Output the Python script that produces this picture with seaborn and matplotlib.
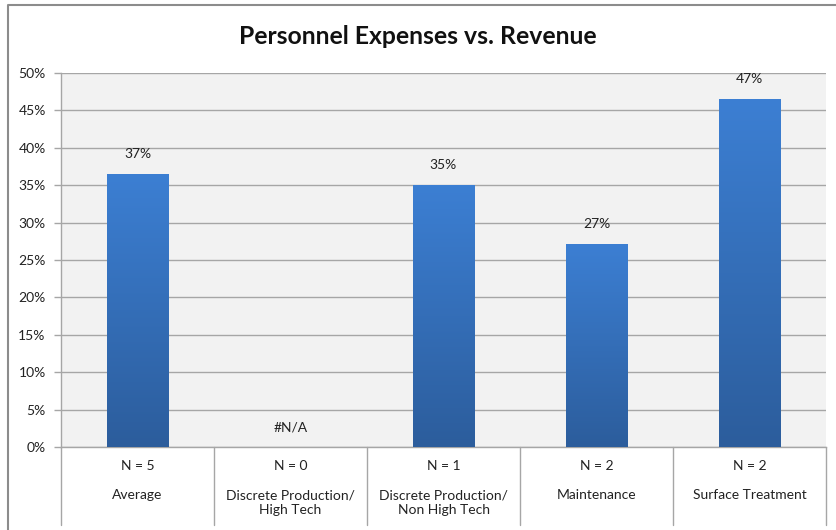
import numpy as np
import pandas as pd
import matplotlib
matplotlib.use("Agg")
import matplotlib.pyplot as plt
import matplotlib.transforms as mtransforms
from matplotlib.colors import LinearSegmentedColormap
from matplotlib.lines import Line2D
import seaborn as sns

# Data
categories = ["Average", "Discrete Production/\nHigh Tech", "Discrete Production/\nNon High Tech",
              "Maintenance", "Surface Treatment"]
sample_sizes = [5, 0, 1, 2, 2]
values = [36.5, np.nan, 35.0, 27.1, 46.5]
value_labels = ["37%", "#N/A", "35%", "27%", "47%"]
y_ticks = [0, 5, 10, 15, 20, 25, 30, 35, 40, 45, 50]

sns.set_theme(style="white")
plt.rcParams["font.family"] = ["Lato", "DejaVu Sans"]

df = pd.DataFrame({"category": categories, "value": values})

fig = plt.figure(figsize=(8.36, 5.30), dpi=100)
ax = fig.add_axes([61 / 836, 1 - 447 / 530, 765 / 836, 374 / 530])
ax.set_facecolor("#f2f2f2")

sns.barplot(data=df, x="category", y="value", ax=ax, color="#3a78c9", width=0.4,
            saturation=1, edgecolor="none", zorder=3)

# gradient fill on each bar
cmap = LinearSegmentedColormap.from_list("bar", ["#2c5d9c", "#3c7fd3"])
grad = np.linspace(0, 1, 256).reshape(-1, 1)
for p in ax.patches:
    h = p.get_height()
    if not np.isfinite(h) or h <= 0:
        continue
    x0 = p.get_x()
    w = p.get_width()
    im = ax.imshow(grad, cmap=cmap, aspect="auto", origin="lower",
                   extent=[x0, x0 + w, 0, h], zorder=4)
    im.set_clip_path(p)

ax.set_xlim(-0.5, len(categories) - 0.5)
ax.set_ylim(0, 50)
ax.set_yticks(y_ticks)
ax.set_yticklabels([f"{t}%" for t in y_ticks], fontsize=10, color="#222222")
ax.yaxis.grid(True, color="#a6a6a6", linewidth=1.0, zorder=0)
ax.set_axisbelow(True)
ax.tick_params(axis="y", length=5, width=1, color="#a6a6a6", pad=6, left=True)
ax.set_xticks([])
ax.set_xlabel("")
ax.set_ylabel("")
for side in ["top", "right"]:
    ax.spines[side].set_visible(False)
for side in ["left", "bottom"]:
    ax.spines[side].set_color("#a6a6a6")
    ax.spines[side].set_linewidth(1.0)

# value labels
for i, (v, lab) in enumerate(zip(values, value_labels)):
    y = 0 if not np.isfinite(v) else v
    ax.annotate(lab, (i, y), xytext=(0, 10), textcoords="offset points",
                ha="center", va="bottom", fontsize=10, color="#222222")

# category table under the axis
trans = mtransforms.blended_transform_factory(ax.transData, ax.transAxes)
for b in np.arange(-0.5, len(categories), 1.0):
    ax.plot([b, b], [0, -78 / 374], transform=trans, color="#a6a6a6", lw=1, clip_on=False)
for i, (n, cat) in enumerate(zip(sample_sizes, categories)):
    ax.text(i, -19 / 374, f"N = {n}", transform=trans, ha="center", va="center",
            fontsize=10, color="#222222")
    ax.text(i, -42 / 374, cat, transform=trans, ha="center", va="top",
            fontsize=10, color="#222222", linespacing=1.25)

fig.text(0.5, 1 - 37 / 530, "Personnel Expenses vs. Revenue", ha="center", va="center",
         fontsize=17.8, fontweight="bold", color="#111111")

# chart border (top and left edges)
fx = 7.5 / 836
fy = 1 - 4.5 / 530
fig.add_artist(Line2D([fx, fx, 1], [0, fy, fy], transform=fig.transFigure,
                      color="#8c8c8c", lw=1.5))

fig.savefig("out.png", dpi=100)
